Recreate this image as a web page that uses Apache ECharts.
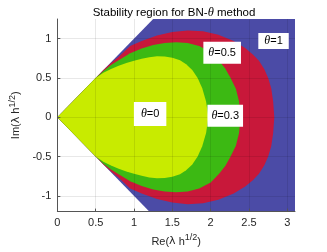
<!DOCTYPE html>
<html>
<head>
<meta charset="utf-8">
<script src="https://cdn.jsdelivr.net/npm/echarts@6/dist/echarts.min.js"></script>
<style>html,body{margin:0;padding:0;background:#fff}#c{width:327px;height:252px}</style>
</head>
<body>
<div id="c"></div>
<script>
// Tick labels
var xTicks = [0, 0.5, 1, 1.5, 2, 2.5, 3];
var yTicks = [-1, -0.5, 0, 0.5, 1];

// Upper boundaries of each stability region (mirrored about Im = 0)
var theta1X = [0, 1.25, 3.1];
var theta1Y = [0, 1.25, 1.25];

var theta05X = [0, 0.5, 0.6, 0.7, 0.8, 0.95, 1.1, 1.3, 1.5, 1.7, 1.9, 2.1, 2.3, 2.45, 2.55, 2.63, 2.7, 2.75, 2.79, 2.815, 2.83];
var theta05Y = [0, 0.5, 0.6, 0.69, 0.77, 0.905, 0.97, 1.04, 1.085, 1.105, 1.095, 1.05, 0.97, 0.88, 0.8, 0.72, 0.61, 0.5, 0.37, 0.2, 0];

var theta03X = [0, 0.5, 0.6, 0.7, 0.8, 0.95, 1.1, 1.25, 1.4, 1.55, 1.7, 1.85, 2.0, 2.11, 2.19, 2.26, 2.33, 2.37, 2.39];
var theta03Y = [0, 0.5, 0.59, 0.665, 0.725, 0.815, 0.875, 0.92, 0.945, 0.955, 0.945, 0.905, 0.83, 0.72, 0.62, 0.5, 0.36, 0.2, 0];

var theta0X = [0, 0.5, 0.6, 0.7, 0.8, 0.9, 1.0, 1.1, 1.2, 1.3, 1.4, 1.5, 1.6, 1.68, 1.76, 1.83, 1.89, 1.94, 1.97];
var theta0Y = [0, 0.5, 0.565, 0.615, 0.655, 0.69, 0.72, 0.745, 0.765, 0.775, 0.772, 0.757, 0.725, 0.675, 0.6, 0.5, 0.37, 0.2, 0];

// Annotation labels
var labelText = ['0', '0.3', '0.5', '1'];
var labelX = [1.21, 2.19, 2.15, 2.82];
var labelY = [0.04, 0.02, 0.82, 0.97];
var labelPad = [[6, 7], [5, 4], [5, 5], [2, 6]];

var regions = [
  {name: 'θ=1', xs: theta1X, ys: theta1Y, color: '#4b4ba6'},
  {name: 'θ=0.5', xs: theta05X, ys: theta05Y, color: '#c8183a'},
  {name: 'θ=0.3', xs: theta03X, ys: theta03Y, color: '#3cb913'},
  {name: 'θ=0', xs: theta0X, ys: theta0Y, color: '#c8eb00'}
];

function regionSeries(r) {
  return {
    type: 'custom',
    name: r.name,
    clip: true,
    silent: true,
    data: [[r.xs[0], r.ys[0]]],
    renderItem: function (params, api) {
      var pts = [];
      for (var i = 0; i < r.xs.length; i++) pts.push(api.coord([r.xs[i], r.ys[i]]));
      for (var j = r.xs.length - 1; j >= 0; j--) pts.push(api.coord([r.xs[j], -r.ys[j]]));
      return {
        type: 'polygon',
        shape: {points: pts},
        style: {fill: r.color, stroke: null}
      };
    },
    z: 2
  };
}

var series = regions.map(regionSeries);

var labelData = labelText.map(function (t, i) {
  return {value: [labelX[i], labelY[i]], t: t, label: {padding: labelPad[i]}};
});
series.push({
  type: 'scatter',
  symbolSize: 0,
  z: 10,
  silent: true,
  itemStyle: {opacity: 1},
  data: labelData,
  label: {
    show: true,
    position: 'inside',
    opacity: 1,
    backgroundColor: '#ffffff',
    formatter: function (p) { return '{th|θ}{n|=' + p.data.t + '}'; },
    rich: {
      th: {fontFamily: 'Liberation Serif', fontStyle: 'italic', fontSize: 12, color: '#000'},
      n: {fontFamily: 'Liberation Sans', fontSize: 11, color: '#000'}
    }
  }
});

var axisText = {fontFamily: 'Liberation Sans', fontSize: 11, color: '#262626'};
var nameRich = {
  a: {fontFamily: 'Liberation Sans', fontSize: 11, color: '#262626', lineHeight: 16},
  l: {fontFamily: 'DejaVu Sans', fontSize: 11, color: '#262626', lineHeight: 16},
  s: {fontFamily: 'Liberation Sans', fontSize: 9, color: '#262626', verticalAlign: 'top', lineHeight: 9}
};

var option = {
  animation: false,
  title: {
    text: '{a|Stability region for BN-}{b|θ}{a| method}',
    left: 169, top: 1, textAlign: 'center',
    textStyle: {
      fontWeight: 'normal',
      rich: {
        a: {fontFamily: 'Liberation Sans', fontSize: 11.5, fontWeight: 'normal', color: '#000'},
        b: {fontFamily: 'Liberation Serif', fontStyle: 'italic', fontWeight: 'normal', fontSize: 12.5, color: '#000'}
      }
    }
  },
  grid: {left: 43, right: 32, top: 19, bottom: 34},
  xAxis: {
    type: 'value', min: 0, max: 3.1, z: 3,
    name: '{a|Re(}{l|λ}{a| h}{s|1/2}{a|)}',
    nameLocation: 'middle', nameGap: 20,
    nameTextStyle: {rich: nameRich},
    axisLine: {show: true, onZero: false, lineStyle: {color: '#555', width: 1}},
    axisTick: {show: true, inside: true, length: 3, customValues: xTicks, lineStyle: {color: '#555'}},
    axisLabel: Object.assign({customValues: xTicks, margin: 6}, axisText),
    splitLine: {show: true, lineStyle: {color: 'rgba(0,0,0,0.09)', width: 1}}
  },
  yAxis: {
    type: 'value', min: -1.2, max: 1.25, z: 3,
    name: '{a|Im(}{l|λ}{a| h}{s|1/2}{a|)}',
    nameLocation: 'middle', nameGap: 29, nameRotate: 90,
    nameTextStyle: {rich: nameRich},
    axisLine: {show: true, onZero: false, lineStyle: {color: '#555', width: 1}},
    axisTick: {show: true, inside: true, length: 3, customValues: yTicks, lineStyle: {color: '#555'}},
    axisLabel: Object.assign({customValues: yTicks, margin: 6}, axisText),
    splitLine: {show: true, lineStyle: {color: 'rgba(0,0,0,0.09)', width: 1}}
  },
  series: series
};

var chart = echarts.init(document.getElementById('c'));
chart.setOption(option);
</script>
</body>
</html>
